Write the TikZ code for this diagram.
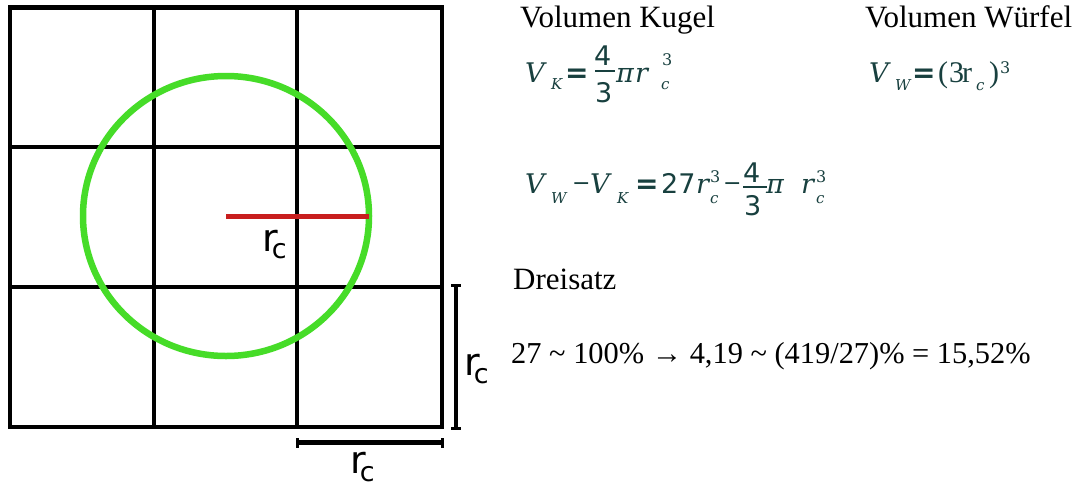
\documentclass[tikz,border=0pt]{standalone}
\usepackage{fontspec}
\setmainfont{Liberation Serif}
\newfontfamily\sansdj{DejaVu Sans}
\newfontfamily\serifdj{DejaVu Serif}
\definecolor{formcol}{RGB}{24,64,63}
\definecolor{circgreen}{RGB}{70,220,40}
\definecolor{radred}{RGB}{200,30,30}
\newcommand\at[3]{\rlap{\hspace*{#1pt}\raisebox{#2pt}{#3}}}
\newcommand\fv[1]{{\serifdj\fontsize{27}{27}\selectfont\itshape #1}}
\newcommand\fu[1]{{\fontsize{30}{30}\selectfont #1}}
\newcommand\fs[1]{{\serifdj\fontsize{15}{15}\selectfont\itshape #1}}
\newcommand\fsup[1]{{\serifdj\fontsize{16}{16}\selectfont #1}}
\newcommand\fn[1]{{\sansdj\fontsize{27}{27}\selectfont #1}}
\newcommand\feq{{\sansdj\bfseries\fontsize{28}{28}\selectfont =}}
\newcommand\fmin{{\sansdj\fontsize{22}{22}\selectfont −}}
\newcommand\fbar[1]{\rule{#1pt}{2pt}}
\newcommand\rclabel[1]{{\sansdj\fontsize{38}{38}\selectfont r\kern-6pt\raisebox{#1pt}{\fontsize{27}{27}\selectfont c}}}
\tikzset{
  gridline/.style={line width=4.5pt, black},
  txt/.style={inner sep=0pt, anchor=base west, font=\fontsize{31}{31}\selectfont},
  calctxt/.style={inner sep=0pt, anchor=base west, font=\fontsize{30.4}{31}\selectfont},
  formula/.style={inner sep=0pt, anchor=base west, text=formcol},
  lbl/.style={inner sep=0pt, anchor=base west},
  bracketline/.style={line width=4.5pt, black},
  tick/.style={line width=3pt, black},
}
\begin{document}
\begin{tikzpicture}[x=1pt,y=-1pt]
\useasboundingbox[fill=white] (0,0) rectangle (1079,483);
% grid
\draw[gridline] (10,7.5) rectangle (442,427);
\draw[gridline] (154,7.5) -- (154,427);
\draw[gridline] (297,7.5) -- (297,427);
\draw[gridline] (10,147) -- (442,147);
\draw[gridline] (10,287) -- (442,287);
% circle and radius
\coordinate (ctr) at (226,216);
\coordinate (rim) at (369,216);
\draw[circgreen, line width=6.5pt] (ctr) ellipse [x radius=143, y radius=140];
\draw[radred, line width=5pt] (ctr) -- (rim);
\node[lbl] (rc1) at (262,251) {\rclabel{-7}};
% vertical bracket
\coordinate (vt) at (456,285);
\coordinate (vb) at (456,428);
\draw[bracketline] (vt) -- (vb);
\draw[tick] ([xshift=-5pt]vt) -- ([xshift=5pt]vt);
\draw[tick] ([xshift=-5pt]vb) -- ([xshift=5pt]vb);
\node[lbl] (rc2) at (464,375) {\rclabel{-8}};
% horizontal bracket
\coordinate (hl) at (297,442.5);
\coordinate (hr) at (442,442.5);
\draw[bracketline] (hl) -- (hr);
\draw[tick] ([yshift=-5pt]hl) -- ([yshift=5pt]hl);
\draw[tick] ([yshift=-5pt]hr) -- ([yshift=5pt]hr);
\node[lbl] (rc3) at (350,473) {\rclabel{-8}};
% texts
\node[txt] (kugel) at (520,27) {Volumen Kugel};
\node[txt] (wuerfel) at (865,27) {Volumen Würfel};
\node[txt] (dreisatz) at (513,289) {Dreisatz};
\node[calctxt] (calc) at (511,363) {27 \textasciitilde\ 100\% → 4,19 \textasciitilde\ (419/27)\% = 15,52\%};
% formula 1
\node[formula] (fk) at (525,82) {%
 \at{0}{0}{\fv{V}}\at{26}{-7}{\fs{K}}\at{40}{0}{\feq}%
 \at{69}{17}{\fn{4}}\at{70}{10}{\fbar{20}}\at{70}{-20}{\fn{3}}%
 \at{91}{0}{\fv{π}}\at{110}{0}{\fv{r}}\at{137}{17}{\fsup{3}}\at{136}{-7}{\fs{c}}%
 \hspace*{150pt}};
% formula 2
\node[formula] (fw) at (869,82) {%
 \at{0}{0}{\fv{V}}\at{26}{-8}{\fs{W}}\at{43}{0}{\feq}%
 \at{69}{0}{\fu{(}}\at{80}{0}{\fu{3}}\at{93}{0}{\fu{r}}\at{107}{-8}{\fs{c}}%
 \at{120}{0}{\fu{)}}\at{131}{9}{\fsup{3}}%
 \hspace*{145pt}};
% formula 3
\node[formula] (fd) at (525,193) {%
 \at{0}{0}{\fv{V}}\at{26}{-10}{\fs{W}}\at{47}{3}{\fmin}%
 \at{65}{0}{\fv{V}}\at{92}{-10}{\fs{K}}\at{110}{0}{\feq}%
 \at{136}{0}{\fn{27}}\at{171}{0}{\fv{r}}\at{185}{11}{\fsup{3}}\at{185}{-10}{\fs{c}}%
 \at{198}{3}{\fmin}%
 \at{218}{11}{\fn{4}}\at{218}{5}{\fbar{24}}\at{219}{-22}{\fn{3}}%
 \at{241}{0}{\fv{π}}\at{276}{0}{\fv{r}}\at{291}{11}{\fsup{3}}\at{291}{-10}{\fs{c}}%
 \hspace*{305pt}};
\end{tikzpicture}
\end{document}
